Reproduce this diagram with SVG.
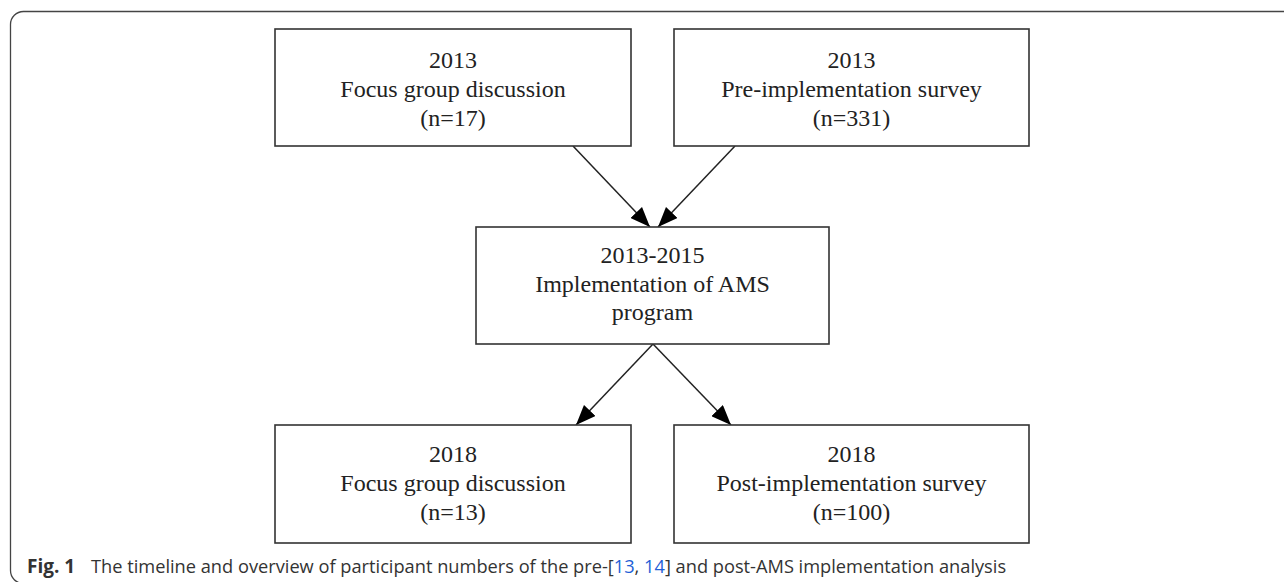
<svg xmlns="http://www.w3.org/2000/svg" width="1284" height="582" viewBox="0 0 1284 582">
<style>
.box{fill:#fff;stroke:#333;stroke-width:1.6}
.t{font-family:"Liberation Serif","Times New Roman",serif;font-size:24px;fill:#222;text-anchor:middle}
.edge{stroke:#222;stroke-width:1.5;fill:none}
.cap{font-family:"Open Sans","Noto Sans",sans-serif;font-size:19px;fill:#333}
.ref{fill:#1f5fd6}
</style>
<defs>
<marker id="arrow" viewBox="0 0 20 16" refX="20" refY="8" markerWidth="20" markerHeight="16" markerUnits="userSpaceOnUse" orient="auto">
<path d="M0,0 L20,8 L0,16 z" fill="#000"/>
</marker>
</defs>
<rect x="10.5" y="11.5" width="1300" height="572" rx="13" fill="#fff" stroke="#444" stroke-width="1.3"/>
<g id="connectors">
<line class="edge" x1="573" y1="146" x2="650" y2="227" marker-end="url(#arrow)"/>
<line class="edge" x1="735" y1="146" x2="658" y2="227" marker-end="url(#arrow)"/>
<line class="edge" x1="653" y1="344" x2="576" y2="425" marker-end="url(#arrow)"/>
<line class="edge" x1="653" y1="344" x2="731" y2="425" marker-end="url(#arrow)"/>
</g>
<g id="n1">
<rect class="box" x="275" y="29" width="356" height="117"/>
<text class="t" x="453" y="68">2013</text>
<text class="t" x="453" y="97">Focus group discussion</text>
<text class="t" x="453" y="126">(n=17)</text>
</g>
<g id="n2">
<rect class="box" x="674" y="29" width="355" height="117"/>
<text class="t" x="851.5" y="68">2013</text>
<text class="t" x="851.5" y="97">Pre-implementation survey</text>
<text class="t" x="851.5" y="126">(n=331)</text>
</g>
<g id="n3">
<rect class="box" x="476" y="227" width="353" height="117"/>
<text class="t" x="652.5" y="263">2013-2015</text>
<text class="t" x="652.5" y="292">Implementation of AMS</text>
<text class="t" x="652.5" y="320">program</text>
</g>
<g id="n4">
<rect class="box" x="275" y="425" width="356" height="118"/>
<text class="t" x="453" y="462">2018</text>
<text class="t" x="453" y="491">Focus group discussion</text>
<text class="t" x="453" y="520">(n=13)</text>
</g>
<g id="n5">
<rect class="box" x="674" y="425" width="355" height="118"/>
<text class="t" x="851.5" y="462">2018</text>
<text class="t" x="851.5" y="491">Post-implementation survey</text>
<text class="t" x="851.5" y="520">(n=100)</text>
</g>
<g id="caption">
<text class="cap" x="27" y="573" font-weight="bold">Fig. 1</text>
<text class="cap" transform="translate(91 573) scale(0.96 1)">The timeline and overview of participant numbers of the pre-[<tspan class="ref">13</tspan>, <tspan class="ref">14</tspan>] and post-AMS implementation analysis</text>
</g>
</svg>
